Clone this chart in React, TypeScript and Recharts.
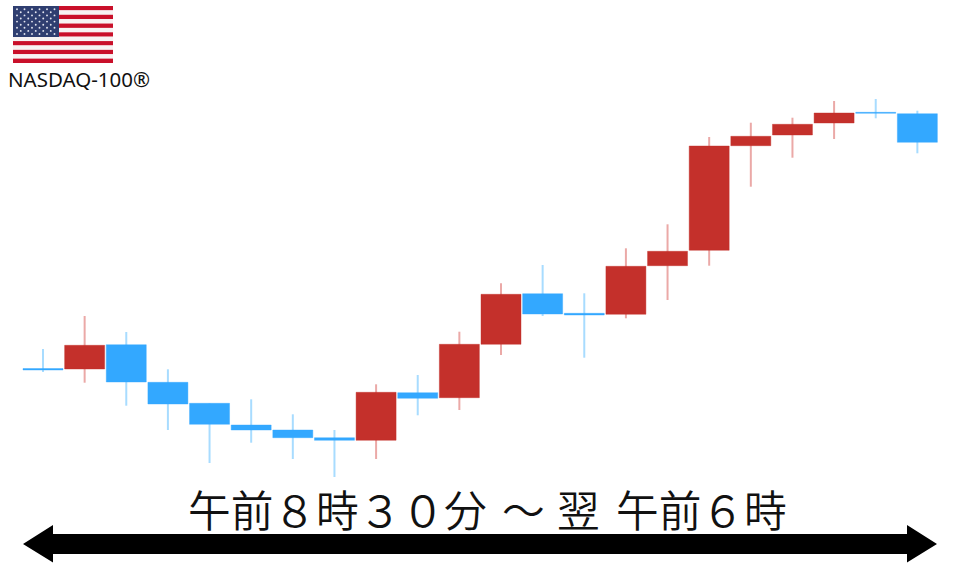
import { ComposedChart, Bar, Cell, XAxis, YAxis } from "recharts"

// hourly candles, 08:30 through 05:30 the next morning
const hours = [
  "08:30", "09:30", "10:30", "11:30", "12:30", "13:30", "14:30", "15:30", "16:30", "17:30", "18:30",
  "19:30", "20:30", "21:30", "22:30", "23:30", "00:30", "01:30", "02:30", "03:30", "04:30", "05:30",
]
const opens = [
  198.5, 198, 222.3, 184.7, 163.7, 142, 137, 129.3, 126.7, 174.3, 169.3,
  222.7, 273.3, 253.7, 252.7, 301.3, 316.7, 421.3, 432, 444, 454.7, 453.3,
]
const closes = [
  197, 221.7, 185, 163, 142.7, 137, 129.3, 126.7, 174.7, 168.7, 222.7,
  272.7, 253, 252, 300.7, 315.7, 421, 430.7, 442.7, 454, 453.7, 424.7,
]
const highs = [
  218, 251, 235, 197.7, 163.7, 167.7, 152.7, 137, 182.7, 192, 235.3,
  283.7, 302, 273.7, 318.7, 342.7, 430, 444.3, 449.3, 466, 468, 456.3,
]
const lows = [
  195, 184.3, 161.3, 137, 104, 124.3, 108, 90, 108, 151.7, 157,
  212, 251, 209.3, 248.7, 267, 301.3, 380.3, 409.3, 428, 448.7, 413.7,
]

const UP = "#c4302b"
const DOWN = "#33a8ff"
const UP_WICK = "#eba9a7"
const DOWN_WICK = "#a8dcff"

const chartData = hours.map((hour, i) => ({
  hour,
  up: closes[i] >= opens[i],
  body: [Math.min(opens[i], closes[i]), Math.max(opens[i], closes[i])],
  wick: [lows[i], highs[i]],
}))

function Flag() {
  const stripes = Array.from({ length: 13 }, (_, i) => i)
  const rows = Array.from({ length: 9 }, (_, i) => i)
  return (
    <g>
      {stripes.map((i) => (
        <rect key={i} x={13} y={6 + (i * 57) / 13} width={100} height={57 / 13} fill={i % 2 ? "#f7f3f3" : "#c9102a"} />
      ))}
      <rect x={13} y={6} width={46} height={31} fill="#2f3e70" />
      {rows.map((r) =>
        Array.from({ length: r % 2 ? 5 : 6 }, (_, c) => (
          <circle
            key={`${r}-${c}`}
            cx={17 + c * 7.5 + (r % 2 ? 3.75 : 0)}
            cy={9.2 + r * 3.1}
            r={0.95}
            fill="#e4e6f0"
          />
        )),
      )}
    </g>
  )
}

export default function App() {
  return (
    <div style={{ position: "absolute", left: 0, top: 0, width: 960, height: 567, background: "#fff", overflow: "hidden" }}>
      <ComposedChart width={960} height={567} data={chartData} margin={{ top: 0, right: 22, bottom: 0, left: 22 }}>
        <XAxis xAxisId="wick" dataKey="hour" hide />
        <XAxis xAxisId="body" dataKey="hour" hide />
        <YAxis domain={[0, 567]} hide />
        <Bar xAxisId="wick" dataKey="wick" barSize={2} isAnimationActive={false}>
          {chartData.map((d) => (
            <Cell key={d.hour} fill={d.up ? UP_WICK : DOWN_WICK} />
          ))}
        </Bar>
        <Bar xAxisId="body" dataKey="body" barSize={40} strokeWidth={1} strokeOpacity={0.4} isAnimationActive={false}>
          {chartData.map((d) => (
            <Cell key={d.hour} fill={d.up ? UP : DOWN} stroke={d.up ? UP : DOWN} />
          ))}
        </Bar>
      </ComposedChart>
      <svg width={960} height={567} style={{ position: "absolute", left: 0, top: 0 }}>
        <Flag />
        <text
          x={8}
          y={87}
          fontFamily="'Noto Sans', sans-serif"
          fontSize={20}
          fill="#111"
          textLength={142}
          lengthAdjust="spacingAndGlyphs"
        >
          NASDAQ-100®
        </text>
        <polygon
          points="23,544 53,525 53,534 907,534 907,525 937,544 907,562.5 907,554 53,554 53,562.5"
          fill="#000"
        />
        <text y={527} fontFamily="'Noto Sans CJK JP', sans-serif" fontSize={42.7} fontWeight={350} fill="#111">
          <tspan x={188}>午前８時３０分</tspan>
          <tspan x={502}>～</tspan>
          <tspan x={557}>翌</tspan>
          <tspan x={616}>午前６時</tspan>
        </text>
      </svg>
    </div>
  )
}
